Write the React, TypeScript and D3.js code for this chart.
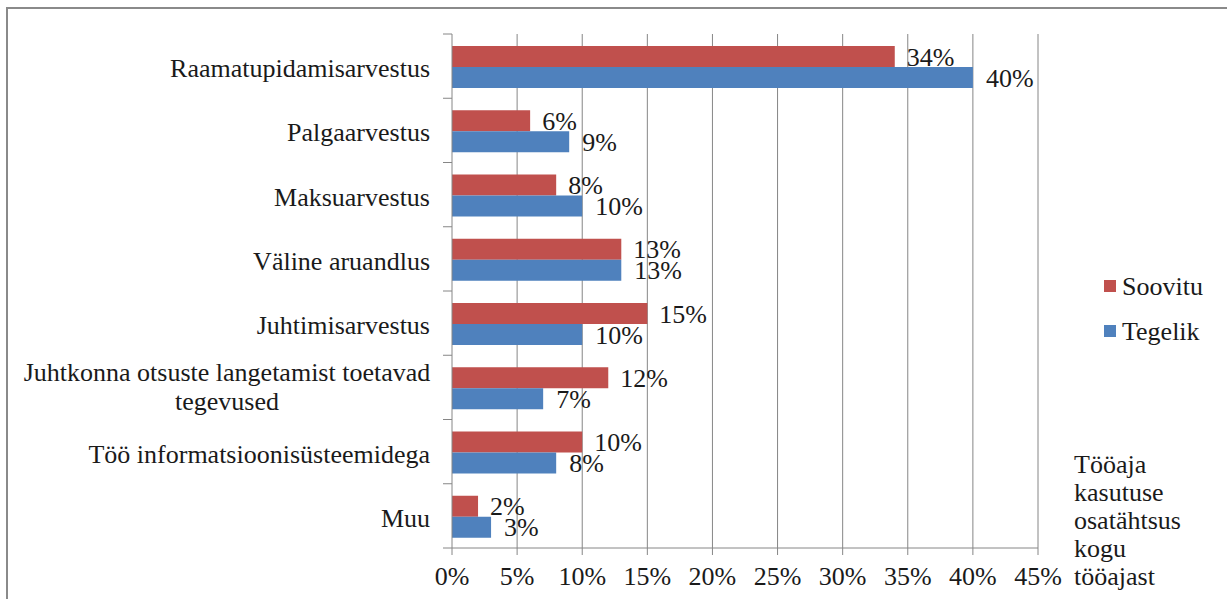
import React from "react";
import * as d3 from "d3";

const categories = [
  "Raamatupidamisarvestus",
  "Palgaarvestus",
  "Maksuarvestus",
  "Väline aruandlus",
  "Juhtimisarvestus",
  "Juhtkonna otsuste langetamist toetavad|tegevused",
  "Töö informatsioonisüsteemidega",
  "Muu",
];
const soovitu = [34, 6, 8, 13, 15, 12, 10, 2];
const tegelik = [40, 9, 10, 13, 10, 7, 8, 3];
const xTicks = [0, 5, 10, 15, 20, 25, 30, 35, 40, 45];
const seriesNames = ["Soovitu", "Tegelik"];
const axisTitle = ["Tööaja", "kasutuse", "osatähtsus", "kogu", "tööajast"];

const RED = "#C0504D";
const BLUE = "#4F81BD";
const GRID = "#868686";
const TXT = "#1a1a1a";
const FONT = '"Liberation Serif", "Times New Roman", "DejaVu Serif", serif';

export default function App() {
  const left = 452;
  const right = 1038;
  const top = 34;
  const bottom = 548;
  const x = d3.scaleLinear().domain([0, 45]).range([left, right]);
  const y = d3.scaleBand<number>().domain(d3.range(categories.length)).range([top, bottom]).paddingInner(0).paddingOuter(0);
  const bw = y.bandwidth();
  const barH = 21;
  const off = 12;
  const fs = 26;

  return (
    <svg width={1227} height={599} style={{ position: "absolute", left: 0, top: 0, background: "#fff", fontFamily: FONT }}>
      <rect x={0} y={0} width={1227} height={599} fill="#fff" />
      <rect x={7} y={8} width={1240} height={620} fill="none" stroke="#8a8a8a" strokeWidth={2} />
      {xTicks.slice(1).map((t) => (
        <line key={"g" + t} x1={x(t)} x2={x(t)} y1={top} y2={bottom} stroke={GRID} strokeWidth={1} />
      ))}
      {categories.map((c, i) => {
        const y0 = (y(i) as number) + off;
        return (
          <g key={"b" + i}>
            <rect x={x(0)} y={y0} width={x(soovitu[i]) - x(0)} height={barH} fill={RED} />
            <rect x={x(0)} y={y0 + barH} width={x(tegelik[i]) - x(0)} height={barH} fill={BLUE} />
            <text x={x(soovitu[i]) + 12} y={y0 + barH / 2 + 9} fontSize={fs} fill={TXT}>
              {soovitu[i]}%
            </text>
            <text x={x(tegelik[i]) + 13} y={y0 + barH * 1.5 + 9} fontSize={fs} fill={TXT}>
              {tegelik[i]}%
            </text>
          </g>
        );
      })}
      <line x1={left} x2={left} y1={top} y2={bottom} stroke={GRID} strokeWidth={1} />
      {d3.range(categories.length + 1).map((i) => (
        <line key={"yt" + i} x1={left - 9} x2={left} y1={top + i * bw} y2={top + i * bw} stroke={GRID} strokeWidth={1} />
      ))}
      <line x1={left} x2={right} y1={bottom} y2={bottom} stroke={GRID} strokeWidth={1} />
      {xTicks.map((t) => (
        <g key={"xt" + t}>
          <line x1={x(t)} x2={x(t)} y1={bottom} y2={bottom + 7} stroke={GRID} strokeWidth={1} />
          <text x={x(t)} y={585} fontSize={fs} textAnchor="middle" fill={TXT}>
            {t}%
          </text>
        </g>
      ))}
      {categories.map((c, i) => {
        const cy = (y(i) as number) + bw / 2;
        const parts = c.split("|");
        if (parts.length === 1) {
          return (
            <text key={"c" + i} x={430} y={cy + 11} fontSize={fs} textAnchor="end" fill={TXT}>
              {c}
            </text>
          );
        }
        return (
          <text key={"c" + i} x={227} y={cy - 6} fontSize={fs} textAnchor="middle" fill={TXT}>
            {parts.map((p, j) => (
              <tspan key={j} x={227} dy={j === 0 ? 0 : 29}>
                {p}
              </tspan>
            ))}
          </text>
        );
      })}
      {seriesNames.map((s, i) => (
        <g key={"l" + i}>
          <rect x={1104} y={280 + i * 45} width={12} height={12} fill={i === 0 ? RED : BLUE} />
          <text x={1122} y={295 + i * 45} fontSize={fs} fill={TXT}>
            {s}
          </text>
        </g>
      ))}
      <text x={1074} y={473} fontSize={fs} fill={TXT}>
        {axisTitle.map((t, j) => (
          <tspan key={j} x={1074} dy={j === 0 ? 0 : 28}>
            {t}
          </tspan>
        ))}
      </text>
    </svg>
  );
}
